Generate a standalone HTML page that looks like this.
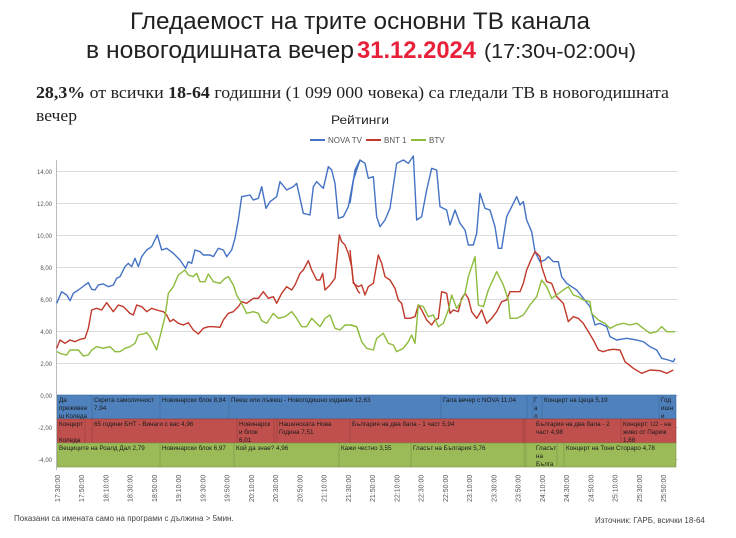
<!DOCTYPE html>
<html><head><meta charset="utf-8"><style>
html,body{margin:0;padding:0;background:#fff;}
svg{display:block;font-family:"Liberation Sans",sans-serif;}
.bt{font-size:6.3px;fill:#1a1a1a;}
.tk{font-size:7px;fill:#555;}
.yl{font-size:6px;fill:#555;}
</style></head><body>
<svg width="736" height="538" viewBox="0 0 736 538" xmlns="http://www.w3.org/2000/svg">
<text x="360" y="29" text-anchor="middle" font-size="24" fill="#222" textLength="460" lengthAdjust="spacingAndGlyphs">Гледаемост на трите основни ТВ канала</text>
<text x="86" y="58" font-size="24" fill="#222" textLength="268" lengthAdjust="spacingAndGlyphs">в новогодишната вечер</text>
<text x="357" y="58" font-size="24" font-weight="bold" fill="#e8203a" textLength="119" lengthAdjust="spacingAndGlyphs">31.12.2024</text>
<text x="484" y="58" font-size="20" fill="#222" textLength="152" lengthAdjust="spacingAndGlyphs">(17:30ч-02:00ч)</text>
<text x="36" y="98" font-family="Liberation Serif,serif" font-size="17" fill="#222" textLength="633" lengthAdjust="spacingAndGlyphs"><tspan font-weight="bold">28,3%</tspan> от всички <tspan font-weight="bold">18-64</tspan> годишни (1 099 000 човека) са гледали ТВ в новогодишната</text>
<text x="36" y="121" font-family="Liberation Serif,serif" font-size="17" fill="#222" textLength="41" lengthAdjust="spacingAndGlyphs">вечер</text>
<text x="331" y="124" font-size="12" fill="#222" textLength="58" lengthAdjust="spacingAndGlyphs">Рейтинги</text>
<g font-size="8" fill="#555">
<line x1="310" y1="140" x2="325" y2="140" stroke="#4472c4" stroke-width="2"/><text x="328" y="143">NOVA TV</text>
<line x1="366" y1="140" x2="381" y2="140" stroke="#c0392b" stroke-width="2"/><text x="384" y="143">BNT 1</text>
<line x1="411" y1="140" x2="426" y2="140" stroke="#8dbb3c" stroke-width="2"/><text x="429" y="143">BTV</text>
</g>
<!-- grid -->
<g stroke="#dcdcdc" stroke-width="1">
<line x1="56" y1="171.5" x2="678" y2="171.5"/><line x1="56" y1="203.5" x2="678" y2="203.5"/><line x1="56" y1="235.5" x2="678" y2="235.5"/><line x1="56" y1="267.5" x2="678" y2="267.5"/><line x1="56" y1="299.5" x2="678" y2="299.5"/><line x1="56" y1="331.5" x2="678" y2="331.5"/><line x1="56" y1="363.5" x2="678" y2="363.5"/><line x1="56" y1="395.5" x2="678" y2="395.5"/><line x1="56" y1="427.5" x2="678" y2="427.5"/><line x1="56" y1="459.5" x2="678" y2="459.5"/>
</g>
<g class="yl" text-anchor="end">
<text x="52" y="174">14,00</text><text x="52" y="206">12,00</text><text x="52" y="238">10,00</text><text x="52" y="270">8,00</text><text x="52" y="302">6,00</text><text x="52" y="334">4,00</text><text x="52" y="366">2,00</text><text x="52" y="398">0,00</text><text x="52" y="430">-2,00</text><text x="52" y="462">-4,00</text>
</g>
<!-- bars -->
<g stroke="#3d6a9e" stroke-width="0.6">
<rect x="57" y="395" width="619" height="24" fill="#4f81bd"/>
<line x1="92" y1="395" x2="92" y2="419"/><line x1="160" y1="395" x2="160" y2="419"/><line x1="229" y1="395" x2="229" y2="419"/><line x1="441" y1="395" x2="441" y2="419"/><line x1="527" y1="395" x2="527" y2="419"/><line x1="533" y1="395" x2="533" y2="419"/><line x1="542" y1="395" x2="542" y2="419"/><line x1="659" y1="395" x2="659" y2="419"/>
</g>
<g stroke="#963c3a" stroke-width="0.6">
<rect x="57" y="419" width="619" height="24" fill="#c0504d"/>
<line x1="85" y1="419" x2="85" y2="443"/><line x1="92" y1="419" x2="92" y2="443"/><line x1="237" y1="419" x2="237" y2="443"/><line x1="274" y1="419" x2="274" y2="443"/><line x1="277" y1="419" x2="277" y2="443"/><line x1="350" y1="419" x2="350" y2="443"/><line x1="523" y1="419" x2="523" y2="443"/><line x1="525" y1="419" x2="525" y2="443"/><line x1="621" y1="419" x2="621" y2="443"/>
</g>
<g stroke="#7a9446" stroke-width="0.6">
<rect x="57" y="443" width="619" height="24" fill="#9bbb59"/>
<line x1="160" y1="443" x2="160" y2="467"/><line x1="234" y1="443" x2="234" y2="467"/><line x1="339" y1="443" x2="339" y2="467"/><line x1="411" y1="443" x2="411" y2="467"/><line x1="524" y1="443" x2="524" y2="467"/><line x1="526" y1="443" x2="526" y2="467"/><line x1="557" y1="443" x2="557" y2="467"/><line x1="564" y1="443" x2="564" y2="467"/>
</g>
<g class="bt">
<text x="59" y="402">Да</text><text x="59" y="410">преживее</text><text x="59" y="418">ш Коледа</text>
<text x="94" y="402">Скрита самоличност</text><text x="94" y="410">7,94</text>
<text x="162" y="402">Новинарски блок 8,84</text>
<text x="231" y="402">Пееш или лъжеш - Новогодишно издание 12,63</text>
<text x="443" y="402">Гала вечер с NOVA 11,04</text>
<text x="534" y="402">Г</text><text x="534" y="410">а</text><text x="534" y="418">л</text>
<text x="544" y="402">Концерт на Цеца 5,19</text>
<text x="661" y="402">Год</text><text x="661" y="410">ишн</text><text x="661" y="418">и</text>
<text x="59" y="426">Концерт</text><text x="59" y="434">:</text><text x="59" y="442">Коледа</text>
<text x="94" y="426">65 години БНТ - Винаги с вас 4,96</text>
<text x="239" y="426">Новинарск</text><text x="239" y="434">и блок</text><text x="239" y="442">6,01</text>
<text x="279" y="426">Нашенската Нова</text><text x="279" y="434">Година 7,51</text>
<text x="352" y="426">България на два бала - 1 част 5,94</text>
<text x="536" y="426">България на два бала - 2</text><text x="536" y="434">част 4,98</text>
<text x="623" y="426">Концерт: U2 - на</text><text x="623" y="434">живо от Париж</text><text x="623" y="442">1,68</text>
<text x="59" y="450">Вещиците на  Роалд Дал 2,79</text>
<text x="162" y="450">Новинарски блок 6,97</text>
<text x="236" y="450">Кой да знае? 4,96</text>
<text x="341" y="450">Кажи честно 3,55</text>
<text x="413" y="450">Гласът на  България 5,76</text>
<text x="536" y="450">Гласът</text><text x="536" y="458">на</text><text x="536" y="466">Бълга</text>
<text x="566" y="450">Концерт на Тони Стораро 4,78</text>
</g>
<line x1="56.5" y1="160" x2="56.5" y2="470" stroke="#bbb"/>
<!-- ticks -->
<g class="tk" id="ticks">
<text transform="translate(60,502) rotate(-90)">17:30:00</text>
<text transform="translate(84.2,502) rotate(-90)">17:50:00</text>
<text transform="translate(108.5,502) rotate(-90)">18:10:00</text>
<text transform="translate(132.7,502) rotate(-90)">18:30:00</text>
<text transform="translate(157,502) rotate(-90)">18:50:00</text>
<text transform="translate(181.2,502) rotate(-90)">19:10:00</text>
<text transform="translate(205.4,502) rotate(-90)">19:30:00</text>
<text transform="translate(229.7,502) rotate(-90)">19:50:00</text>
<text transform="translate(253.9,502) rotate(-90)">20:10:00</text>
<text transform="translate(278.2,502) rotate(-90)">20:30:00</text>
<text transform="translate(302.4,502) rotate(-90)">20:50:00</text>
<text transform="translate(326.6,502) rotate(-90)">21:10:00</text>
<text transform="translate(350.9,502) rotate(-90)">21:30:00</text>
<text transform="translate(375.1,502) rotate(-90)">21:50:00</text>
<text transform="translate(399.4,502) rotate(-90)">22:10:00</text>
<text transform="translate(423.6,502) rotate(-90)">22:30:00</text>
<text transform="translate(447.8,502) rotate(-90)">22:50:00</text>
<text transform="translate(472.1,502) rotate(-90)">23:10:00</text>
<text transform="translate(496.3,502) rotate(-90)">23:30:00</text>
<text transform="translate(520.6,502) rotate(-90)">23:50:00</text>
<text transform="translate(544.8,502) rotate(-90)">24:10:00</text>
<text transform="translate(569,502) rotate(-90)">24:30:00</text>
<text transform="translate(593.3,502) rotate(-90)">24:50:00</text>
<text transform="translate(617.5,502) rotate(-90)">25:10:00</text>
<text transform="translate(641.8,502) rotate(-90)">25:30:00</text>
<text transform="translate(666,502) rotate(-90)">25:50:00</text>
</g>
<!-- series -->
<g fill="none" stroke-width="1.4" stroke-linejoin="round">
<g transform="translate(20,130) scale(0.33333)">
<polyline vector-effect="non-scaling-stroke" stroke="#4472c4" points="110,520 125,485 140,495 150,512 160,490 175,480 195,465 205,458 215,478 225,480 235,465 250,462 265,470 280,465 290,445 300,440 315,410 325,400 335,410 345,385 355,410 365,380 380,360 395,350 412,315 425,360 440,355 460,370 480,390 497,415 505,395 515,400 525,360 540,365 550,375 570,375 580,380 595,355 610,360 620,380 635,360 645,325 655,270 665,200 690,195 700,210 715,205 725,170 738,235 750,215 770,200 780,155 800,180 820,170 830,160 850,250 870,255 880,170 890,155 900,165 910,175 925,110 935,120 945,160 955,265 970,260 985,230 1000,150 1020,90"/>
<polyline vector-effect="non-scaling-stroke" stroke="#c0392b" points="110,655 120,630 135,640 150,630 165,635 180,628 195,625 205,595 215,540 230,535 245,540 260,518 280,545 295,525 310,530 330,550 340,555 350,525 365,530 380,545 395,535 410,540 430,545 440,555 450,575 460,568 475,580 490,585 505,578 520,600 535,612 550,595 565,590 580,590 600,592 610,570 625,550 640,545 655,530 665,515 680,520 700,505 715,505 730,485 745,505 760,500 770,520 785,490 800,470 815,480 825,465 840,430 850,420 865,392 875,420 890,450 900,450 908,430 915,480 930,465 945,445 958,315 965,335 975,345 985,370 995,410 1000,455 1015,485 1020,490"/>
<polyline vector-effect="non-scaling-stroke" stroke="#8dbb3c" points="110,665 125,672 140,675 150,660 175,660 190,678 205,675 215,660 230,650 250,655 270,650 285,665 300,665 315,655 330,650 345,640 355,615 370,612 380,608 390,620 400,640 410,660 415,640 425,600 435,560 445,490 460,470 475,435 495,420 505,435 520,440 530,430 540,455 555,455 565,432 580,455 600,460 615,445 625,440 640,465 650,495 665,520 680,550 700,545 715,550 725,572 740,580 750,565 760,550 775,565 795,560 815,545 830,565 845,590 860,590 875,565 890,580 900,590 915,565 930,555 945,595 960,600 975,585 995,585 1010,590 1020,620"/>
</g>
<g transform="translate(350,130) scale(0.33333)">
<polyline vector-effect="non-scaling-stroke" stroke="#4472c4" points="0,220 15,120 30,90 45,100 55,145 70,140 80,260 90,290 105,270 120,235 140,100 160,90 175,100 190,78 200,270 215,260 230,180 245,115 260,120 270,230 290,240 300,285 315,240 330,280 345,300 355,345 370,345 380,310 390,190 405,235 420,240 435,290 445,355 455,355 470,260 485,230 500,200 510,225 520,215 530,270 545,305 555,365 570,395 585,390 595,380 610,395 625,395 635,440 650,460 665,470 680,480 700,505 720,530 735,585 750,580 770,590 780,620 800,630 830,625 860,630 880,635 900,650 920,660 935,685 955,690 970,695 975,685"/>
<polyline vector-effect="non-scaling-stroke" stroke="#c0392b" points="0,360 10,460 25,470 35,465 45,495 55,470 70,460 85,375 95,400 105,440 120,450 135,475 145,510 155,520 165,565 180,565 195,560 205,525 215,540 230,570 245,585 255,570 265,565 275,485 290,490 300,550 310,540 325,545 335,505 345,490 355,505 365,545 380,565 395,540 410,580 425,565 440,545 455,515 470,510 480,485 500,485 510,485 520,460 530,420 545,385 555,365 570,380 575,410 590,455 605,460 620,500 640,520 655,575 670,560 685,565 700,580 715,605 730,630 745,660 760,665 775,660 790,658 810,660 825,695 850,715 875,730 900,720 930,722 950,730 970,720"/>
<polyline vector-effect="non-scaling-stroke" stroke="#8dbb3c" points="0,585 20,590 35,635 50,655 70,660 80,625 100,610 115,640 130,645 140,665 160,655 175,635 185,615 195,640 205,525 220,530 235,560 250,555 265,590 280,580 295,540 305,495 320,535 330,520 345,490 355,440 375,380 385,525 400,530 415,480 440,425 460,465 475,510 480,565 500,565 520,555 540,525 560,500 575,450 590,470 605,505 620,495 640,480 655,470 670,495 685,500 700,510 720,515 725,550 745,570 765,580 780,595 800,585 820,580 840,585 860,580 880,595 900,610 920,605 935,590 950,605 975,605"/>
</g>
</g>
<text x="14" y="521" font-size="8" fill="#444">Показани са имената само на програми с дължина &gt; 5мин.</text>
<text x="595" y="523" font-size="8" fill="#444">Източник: ГАРБ, всички 18-64</text>
</svg>
</body></html>
